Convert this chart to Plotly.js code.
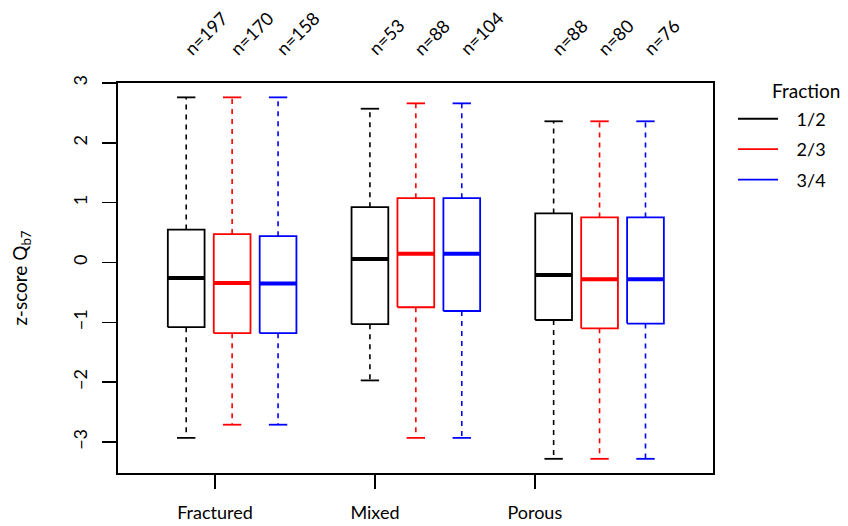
<!DOCTYPE html>
<html>
<head>
<meta charset="utf-8">
<script src="https://cdn.plot.ly/plotly-3.0.1.min.js"></script>
<style>html,body{margin:0;padding:0;background:#fff;}#chart{width:848px;height:526px;}</style>
</head>
<body>
<div id="chart"></div>
<script>
// ---- data ----
var categories = ['Fractured', 'Mixed', 'Porous'];
var fractions = ['1/2', '2/3', '3/4'];
var colors = ['#000000', '#FF0000', '#0000FF'];

// sample sizes, per fraction across categories
var nHalf = [197, 53, 88];
var nTwoThirds = [170, 88, 80];
var nThreeQuarters = [158, 104, 76];

// upper whisker ends
var upperHalf = [2.76, 2.57, 2.36];
var upperTwoThirds = [2.76, 2.66, 2.36];
var upperThreeQuarters = [2.76, 2.66, 2.36];

// third quartiles
var q3Half = [0.55, 0.925, 0.82];
var q3TwoThirds = [0.475, 1.075, 0.753];
var q3ThreeQuarters = [0.44, 1.075, 0.753];

// medians
var medHalf = [-0.26, 0.058, -0.21];
var medTwoThirds = [-0.34, 0.147, -0.28];
var medThreeQuarters = [-0.35, 0.147, -0.28];

// first quartiles
var q1Half = [-1.08, -1.03, -0.96];
var q1TwoThirds = [-1.18, -0.747, -1.10];
var q1ThreeQuarters = [-1.18, -0.81, -1.02];

// lower whisker ends
var lowerHalf = [-2.93, -1.97, -3.28];
var lowerTwoThirds = [-2.71, -2.93, -3.28];
var lowerThreeQuarters = [-2.71, -2.93, -3.28];

var yTicks = [-3, -2, -1, 0, 1, 2, 3];

// ---- build traces ----
var series = [
  {n: nHalf, up: upperHalf, q3: q3Half, med: medHalf, q1: q1Half, lo: lowerHalf},
  {n: nTwoThirds, up: upperTwoThirds, q3: q3TwoThirds, med: medTwoThirds, q1: q1TwoThirds, lo: lowerTwoThirds},
  {n: nThreeQuarters, up: upperThreeQuarters, q3: q3ThreeQuarters, med: medThreeQuarters, q1: q1ThreeQuarters, lo: lowerThreeQuarters}
];

var halfBox = 0.4, halfCap = 0.2;
function pos(ci, fi) { return ci * 4 + fi + 1; }

var traces = [];
var annotations = [];
var FONT = 'Lato, "Open Sans", sans-serif';

series.forEach(function (s, fi) {
  var bx = [], by = [], mx = [], my = [], wx = [], wy = [], cx = [], cy = [];
  categories.forEach(function (c, ci) {
    var p = pos(ci, fi);
    bx.push(p - halfBox, p + halfBox, p + halfBox, p - halfBox, p - halfBox, null);
    by.push(s.q1[ci], s.q1[ci], s.q3[ci], s.q3[ci], s.q1[ci], null);
    mx.push(p - halfBox, p + halfBox, null);
    my.push(s.med[ci], s.med[ci], null);
    wx.push(p, p, null, p, p, null);
    wy.push(s.q3[ci], s.up[ci], null, s.q1[ci], s.lo[ci], null);
    cx.push(p - halfCap, p + halfCap, null, p - halfCap, p + halfCap, null);
    cy.push(s.up[ci], s.up[ci], null, s.lo[ci], s.lo[ci], null);
    annotations.push({
      x: p, xref: 'x', y: 1.053, yref: 'paper',
      text: 'n=' + s.n[ci], showarrow: false, textangle: -45,
      xanchor: 'left', yanchor: 'bottom', xshift: -9,
      font: {family: FONT, size: 18, color: '#000'}
    });
  });
  var col = colors[fi];
  var grp = 'g' + fi;
  traces.push({x: wx, y: wy, mode: 'lines', line: {color: col, width: 1.6, dash: '5px,5px'}, showlegend: false, legendgroup: grp, hoverinfo: 'skip'});
  traces.push({x: cx, y: cy, mode: 'lines', line: {color: col, width: 1.8}, showlegend: false, legendgroup: grp, hoverinfo: 'skip'});
  traces.push({x: bx, y: by, mode: 'lines', line: {color: col, width: 1.8}, name: '\u2002\u00a0' + fractions[fi], legendgroup: grp, showlegend: true, hoverinfo: 'skip'});
  traces.push({x: mx, y: my, mode: 'lines', line: {color: col, width: 4}, showlegend: false, legendgroup: grp, hoverinfo: 'skip'});
});

annotations.push({
  x: 1.156, xref: 'paper', y: 0.981, yref: 'paper', text: 'Fraction', showarrow: false,
  xanchor: 'center', yanchor: 'middle', font: {family: FONT, size: 19, color: '#000'}
});

var layout = {
  width: 848, height: 526,
  margin: {l: 118, r: 135, t: 83, b: 53},
  paper_bgcolor: '#fff', plot_bgcolor: '#fff',
  font: {family: FONT, size: 18, color: '#000'},
  showlegend: true,
  legend: {
    x: 1.0336, xanchor: 'left', y: 0.955, yanchor: 'top',
    traceorder: 'grouped', tracegroupgap: 4, itemwidth: 40,
    font: {family: FONT, size: 18, color: '#000'}, bgcolor: 'rgba(0,0,0,0)'
  },
  xaxis: {
    range: [-0.485, 12.47], showgrid: false, zeroline: false,
    tickmode: 'array', tickvals: [1.627, 5.11, 8.59], ticktext: categories,
    ticks: 'outside', ticklen: 14, tickwidth: 1.5, tickcolor: '#000',
    showline: true, mirror: true, linewidth: 2, linecolor: '#000',
    ticklabelstandoff: 8, tickfont: {family: FONT, size: 18}
  },
  yaxis: {
    range: [-3.517, 3.0], showgrid: false, zeroline: false,
    tickmode: 'array', tickvals: yTicks, ticktext: yTicks.map(function (v) { return v < 0 ? '\u2212' + Math.abs(v) : String(v); }),
    tickangle: -90,
    ticks: 'outside', ticklen: 14, tickwidth: 1.5, tickcolor: '#000',
    showline: true, mirror: true, linewidth: 2, linecolor: '#000',
    ticklabelstandoff: 8, tickfont: {family: FONT, size: 18},
    title: {text: 'z-score Q<sub>b7</sub>', font: {family: FONT, size: 19}, standoff: 36}
  },
  annotations: annotations
};

Plotly.newPlot('chart', traces, layout, {displayModeBar: false, staticPlot: true});
</script>
</body>
</html>
